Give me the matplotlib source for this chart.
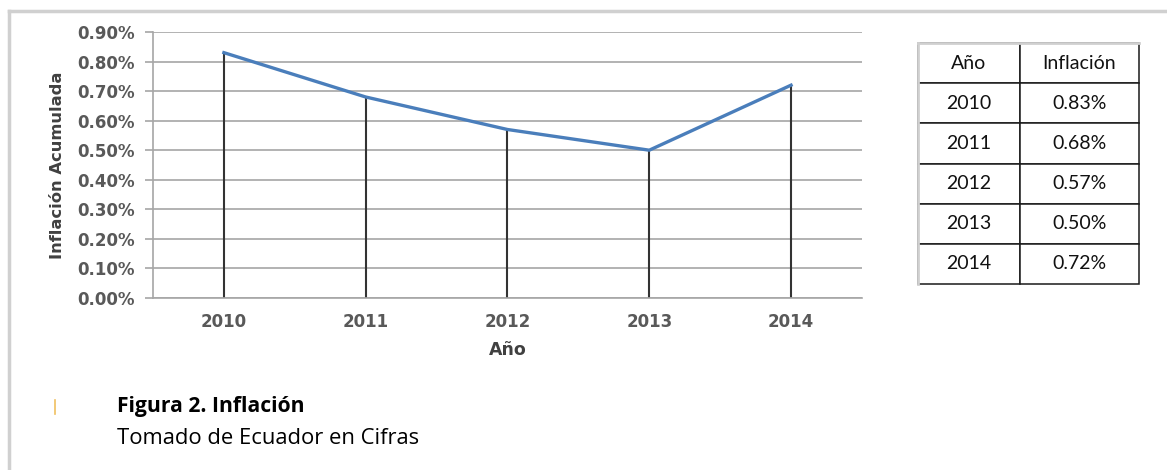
import matplotlib
matplotlib.use('Agg')
import matplotlib.pyplot as plt
from matplotlib.lines import Line2D
from matplotlib.ticker import FuncFormatter

years = ['2010', '2011', '2012', '2013', '2014']
inflacion = [0.83, 0.68, 0.57, 0.50, 0.72]
yticks = [0.0, 0.1, 0.2, 0.3, 0.4, 0.5, 0.6, 0.7, 0.8, 0.9]
table_header = ['Año', 'Inflación']

fig = plt.figure(figsize=(11.67, 4.70), dpi=100)

# outer frame (only top and left visible)
fig.add_artist(Line2D([0.0077, 1.0], [0.977, 0.977], color='#d0d0d0', lw=2.5))
fig.add_artist(Line2D([0.0077, 0.0077], [0.977, 0.0], color='#d0d0d0', lw=2.5))

ax = fig.add_axes([0.1311, 0.366, 0.6075, 0.566])
x = list(range(len(years)))
ax.plot(x, inflacion, color='#4a7ebb', lw=2.4, zorder=3)
ax.vlines(x, 0, inflacion, color='#333333', lw=1.5, zorder=2)
ax.set_xlim(-0.5, len(years) - 0.5)
ax.set_ylim(0, 0.9)
ax.set_yticks(yticks)
ax.yaxis.set_major_formatter(FuncFormatter(lambda v, p: '{:.2f}%'.format(v)))
ax.set_xticks(x)
ax.set_xticklabels(years)
ax.grid(axis='y', color='#a6a6a6', lw=1.2)
ax.set_axisbelow(True)
for s in ['top', 'right']:
    ax.spines[s].set_visible(False)
ax.spines['left'].set_color('#a6a6a6')
ax.spines['bottom'].set_color('#a6a6a6')
ax.spines['left'].set_linewidth(1.2)
ax.spines['bottom'].set_linewidth(1.2)
ax.tick_params(axis='y', length=6, color='#a6a6a6', width=1.2, pad=7)
ax.tick_params(axis='x', length=0, pad=11)
for lab in ax.get_yticklabels() + ax.get_xticklabels():
    lab.set_fontweight('bold')
    lab.set_color('#595959')
    lab.set_fontsize(12)
ax.set_xlabel('Año', fontsize=12.5, fontweight='bold', color='#404040', labelpad=7)
ax.set_ylabel('Inflación Acumulada', fontsize=11.8, fontweight='bold', color='#404040', labelpad=9)

# table on the right
cell_text = [[y, '{:.2f}%'.format(v)] for y, v in zip(years, inflacion)]
tax = fig.add_axes([0.7866, 0.3957, 0.1894, 0.5128])
tax.axis('off')
tbl = tax.table(cellText=cell_text, colLabels=table_header, cellLoc='center',
                colWidths=[0.46, 0.54], bbox=[0, 0, 1, 1])
tbl.auto_set_font_size(False)
for (r, c), cell in tbl.get_celld().items():
    cell.set_edgecolor('#1a1a1a')
    cell.set_linewidth(1.1)
    cell.get_text().set_fontsize(14)
    cell.get_text().set_family('Lato')
    cell.get_text().set_color('#111111')
# light grey outer top and left edges as in the source
tax.plot([0, 1], [1, 1], color='#d0d0d0', lw=2, transform=tax.transAxes, zorder=5, clip_on=False)
tax.plot([0, 0], [0, 1], color='#d0d0d0', lw=2, transform=tax.transAxes, zorder=5, clip_on=False)

# small orange mark before the caption
fig.add_artist(Line2D([0.0475, 0.0475], [0.148, 0.12], color='#f0c060', lw=1.2))

fig.text(0.1, 0.136, 'Figura 2. Inflación', fontsize=15.2, fontweight='bold',
         family='Open Sans', ha='left', va='center', color='black')
fig.text(0.1, 0.068, 'Tomado de Ecuador en Cifras', fontsize=15.8,
         family='Open Sans', ha='left', va='center', color='black')

fig.savefig('out.png', dpi=100)
